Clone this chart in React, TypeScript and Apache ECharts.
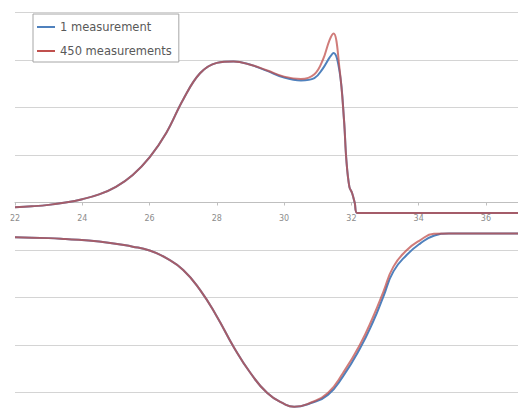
import React, { useEffect, useRef } from "react";
import * as echarts from "echarts";

// Shared x positions (upper trace) and the two measurement runs
const topX = [22, 22.5, 23, 23.5, 24, 24.5, 25, 25.5, 26, 26.5, 27, 27.5, 28, 28.5, 29, 29.5, 30, 30.5, 30.9, 31.15, 31.35, 31.47, 31.65, 31.78, 31.85, 31.94, 32.02, 32.1, 32.17, 33, 34, 35, 36, 37];
const topOne = [-0.1, -0.08, -0.05, 0.0, 0.07, 0.17, 0.33, 0.58, 0.95, 1.47, 2.17, 2.72, 2.94, 2.97, 2.9, 2.77, 2.63, 2.57, 2.62, 2.82, 3.05, 3.15, 2.75, 1.74, 0.9, 0.33, 0.2, -0.01, -0.22, -0.22, -0.22, -0.22, -0.22, -0.22];
const topFour = [-0.1, -0.08, -0.05, 0.0, 0.07, 0.17, 0.33, 0.58, 0.95, 1.47, 2.17, 2.72, 2.94, 2.97, 2.9, 2.78, 2.65, 2.6, 2.7, 3.0, 3.42, 3.56, 2.8, 1.74, 0.9, 0.33, 0.2, -0.01, -0.22, -0.22, -0.22, -0.22, -0.22, -0.22];

// Lower trace
const lowX = [22, 23, 23.5, 24.5, 25.5, 26, 26.5, 27, 27.5, 28, 28.5, 29, 29.5, 30, 30.3, 30.8, 31.3, 31.75, 32.25, 32.65, 32.95, 33.25, 33.65, 34.05, 34.45, 34.9, 37];
const lowOne = [-0.73, -0.75, -0.77, -0.82, -0.93, -1.01, -1.17, -1.42, -1.84, -2.4, -3.04, -3.59, -4.01, -4.24, -4.3, -4.22, -4.05, -3.66, -3.08, -2.5, -1.98, -1.45, -1.1, -0.86, -0.7, -0.65, -0.65];
const lowFour = [-0.73, -0.75, -0.77, -0.82, -0.93, -1.01, -1.17, -1.42, -1.84, -2.4, -3.04, -3.59, -4.01, -4.24, -4.3, -4.21, -4.01, -3.59, -3.0, -2.4, -1.88, -1.35, -1.0, -0.79, -0.66, -0.65, -0.65];

const seriesNames = ["1 measurement", "450 measurements"];
const xTicks = { min: 22, max: 37, step: 2 };
const yUpper = { min: 0, max: 4, step: 1 };
const yLower = { min: -5, max: 0, step: 1 };

const BLUE = "#4F81BD";
const RED = "#C0504D";
const GRID = "#d4d4d4";

const UNIT_X = 33.64; // px per x unit
const UNIT_Y = 47.5; // px per y unit
const LEFT = 15;
const TOP = 12.5;

const zip = (xs: number[], ys: number[]) => xs.map((x, i) => [x, ys[i]]);

export default function App() {
  const ref = useRef<HTMLDivElement>(null);

  useEffect(() => {
    if (!ref.current) return;
    const chart = echarts.init(ref.current, undefined, { renderer: "svg" });

    const width = (xTicks.max - xTicks.min) * UNIT_X;
    const upperH = (yUpper.max - yUpper.min) * UNIT_Y;
    const lowerH = (yLower.max - yLower.min) * UNIT_Y;

    const line = (
      name: string,
      data: number[][],
      color: string,
      opacity: number,
      idx: number,
      smooth: number
    ) => ({
      name,
      type: "line",
      xAxisIndex: idx,
      yAxisIndex: idx,
      data,
      showSymbol: false,
      smooth,
      color,
      lineStyle: { color, width: 2, opacity },
      clip: false,
    });

    const xBase = {
      type: "value",
      min: xTicks.min,
      max: xTicks.max,
      interval: xTicks.step,
      splitLine: { show: false },
    };

    const yBase = {
      type: "value",
      axisLine: { show: false },
      axisTick: { show: false },
      axisLabel: { show: false },
      splitLine: { show: true, lineStyle: { color: GRID, width: 1 } },
    };

    chart.setOption({
      animation: false,
      backgroundColor: "#ffffff",
      grid: [
        { left: LEFT, top: TOP, width, height: upperH, outerBoundsMode: "none", containLabel: false },
        { left: LEFT, top: TOP + upperH, width, height: lowerH, outerBoundsMode: "none", containLabel: false },
      ],
      legend: {
        data: seriesNames,
        orient: "vertical",
        left: 33,
        top: 14,
        padding: [6, 7, 4, 4],
        itemGap: 10,
        itemWidth: 18,
        itemHeight: 2,
        itemTextGap: 2,
        icon: "rect",
        backgroundColor: "#ffffff",
        borderColor: "#a6a6a6",
        borderWidth: 1,
        textStyle: { fontFamily: "DejaVu Sans", fontSize: 11.5, color: "#595959", lineHeight: 14 },
      },
      xAxis: [
        {
          ...xBase,
          gridIndex: 0,
          axisLine: { show: true, lineStyle: { color: "#bfbfbf", width: 1 } },
          axisTick: { show: true, length: 3, lineStyle: { color: "#bfbfbf" } },
          axisLabel: {
            margin: 12,
            fontSize: 8,
            color: "#8c8c8c",
            fontFamily: "DejaVu Sans",
            formatter: (v: number) => (v % 2 === 0 ? String(v) : ""),
          },
        },
        {
          ...xBase,
          gridIndex: 1,
          axisLine: { show: false },
          axisTick: { show: false },
          axisLabel: { show: false },
        },
      ],
      yAxis: [
        { ...yBase, gridIndex: 0, min: yUpper.min, max: yUpper.max, interval: yUpper.step },
        { ...yBase, gridIndex: 1, min: yLower.min, max: yLower.max, interval: yLower.step },
      ],
      series: [
        line(seriesNames[0], zip(topX, topOne), BLUE, 1, 0, 0.4),
        line(seriesNames[1], zip(topX, topFour), RED, 0.75, 0, 0.4),
        line(seriesNames[0], zip(lowX, lowOne), BLUE, 1, 1, 0.5),
        line(seriesNames[1], zip(lowX, lowFour), RED, 0.75, 1, 0.5),
      ],
    });

    return () => chart.dispose();
  }, []);

  return (
    <div
      ref={ref}
      style={{ position: "fixed", left: 0, top: 0, width: 518, height: 409 }}
    />
  );
}
